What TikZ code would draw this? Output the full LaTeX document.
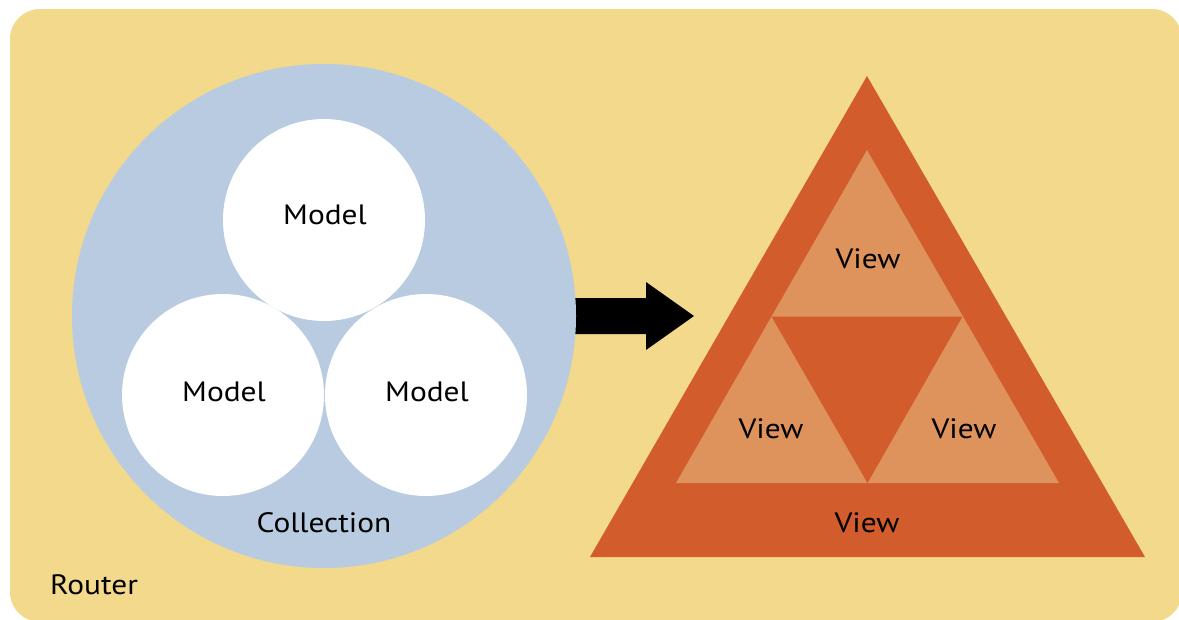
\documentclass[tikz,border=0pt]{standalone}
\usepackage{fontspec}
\setmainfont{PT Sans}[FakeStretch=1.12]
\definecolor{routerbg}{HTML}{F3D98C}
\definecolor{collbg}{HTML}{B9CBE0}
\definecolor{viewdark}{HTML}{D35C2C}
\definecolor{viewlight}{HTML}{DE935C}
\begin{document}
\begin{tikzpicture}[x=1pt,y=-1pt,
  lbl/.style={font=\fontsize{28}{32}\selectfont, inner sep=0pt, text=black, anchor=base},
  model/.style={circle, fill=white, minimum size=202pt, inner sep=0pt},
  collection/.style={circle, fill=collbg, minimum size=504pt, inner sep=0pt}]
  \useasboundingbox (0,0) rectangle (1179,619);
  % router background
  \fill[routerbg, rounded corners=30pt] (10,9) rectangle (1182,622);
  \node[lbl, anchor=base west] (router) at (50,594) {Router};

  % arrow from collection to views
  \coordinate (arrowtail) at (560,316);
  \fill[black] (arrowtail) ++(0,-18) -- (646,298) -- (646,282) -- (694,316)
    -- (646,350) -- (646,334) -- (560,334) -- cycle;

  % collection of models
  \node[collection] (coll) at (324,316) {};
  \node[model] (m1) at (324,220) {};
  \node[model] (m2) at (223,395) {};
  \node[model] (m3) at (426,395) {};
  \node[lbl] (m1t) at (325,224) {Model};
  \node[lbl] (m2t) at (224,401) {Model};
  \node[lbl] (m3t) at (427,401) {Model};
  \node[lbl] (collt) at (324,532) {Collection};

  % nested views
  \coordinate (o1) at (867,76);
  \coordinate (o2) at (590,557);
  \coordinate (o3) at (1145,557);
  \coordinate (i1) at (867,150);
  \coordinate (i2) at (676,483);
  \coordinate (i3) at (1059,483);
  \coordinate (h12) at (771.5,316.5);
  \coordinate (h13) at (962.5,316.5);
  \coordinate (h23) at (867.5,483);
  \fill[viewdark] (o1) -- (o2) -- (o3) -- cycle;
  \fill[viewlight] (i1) -- (i2) -- (i3) -- cycle;
  \fill[viewdark] (h12) -- (h13) -- (h23) -- cycle;
  \node[lbl] (v1) at (868,268) {View};
  \node[lbl] (v2) at (771,438) {View};
  \node[lbl] (v3) at (964,438) {View};
  \node[lbl] (v4) at (867,532) {View};
\end{tikzpicture}
\end{document}
